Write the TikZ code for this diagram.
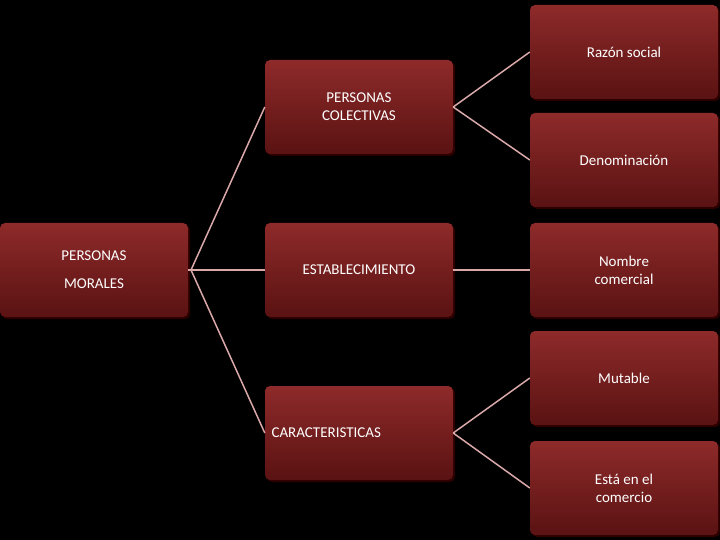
\documentclass[tikz,border=0pt]{standalone}
\usepackage{fontspec}
\setmainfont{Carlito}
\usetikzlibrary{shadows}
\definecolor{boxtop}{HTML}{8E2A2A}
\definecolor{boxbot}{HTML}{5A1212}
\definecolor{linec}{HTML}{D9A8A8}
\tikzset{
 box/.style={rounded corners=5pt, top color=boxtop, bottom color=boxbot, draw=none,
   minimum width=188pt, minimum height=94pt, text=white, align=center,
   font=\fontsize{15}{18}\selectfont, inner sep=2pt,
   drop shadow={shadow xshift=2pt, shadow yshift=-2pt, fill=black!70!red, opacity=0.6}},
 conn/.style={draw=linec, line width=1.5pt}
}
\begin{document}
\begin{tikzpicture}[x=1pt,y=-1pt]
\fill[black] (0,0) rectangle (720,540);
\useasboundingbox (0,0) rectangle (720,540);
\node[box] (pm) at (94,270) {PERSONAS\\[10pt]MORALES};
\node[box] (pc) at (359,107) {PERSONAS\\COLECTIVAS};
\node[box] (es) at (359,270) {ESTABLECIMIENTO};
\node[box, text depth=0pt] (ca) at (359,433) {};
\node[text=white, font=\fontsize{15}{18}\selectfont, anchor=west] (cat) at (268,433) {CARACTERISTICAS};
\node[box] (rs) at (624,52) {Razón social};
\node[box] (de) at (624,160) {Denominación};
\node[box] (nc) at (624,270) {Nombre\\comercial};
\node[box] (mu) at (624,378) {Mutable};
\node[box] (ec) at (624,488) {Está en el\\comercio};
\coordinate (j) at (191,270);
\draw[conn] (pm.east) -- (j);
\draw[conn] (j) -- (pc.west);
\draw[conn] (j) -- (es.west);
\draw[conn] (j) -- (ca.west);
\draw[conn] (pc.east) -- (rs.west);
\draw[conn] (pc.east) -- (de.west);
\draw[conn] (es.east) -- (nc.west);
\draw[conn] (ca.east) -- (mu.west);
\draw[conn] (ca.east) -- (ec.west);
\end{tikzpicture}
\end{document}
